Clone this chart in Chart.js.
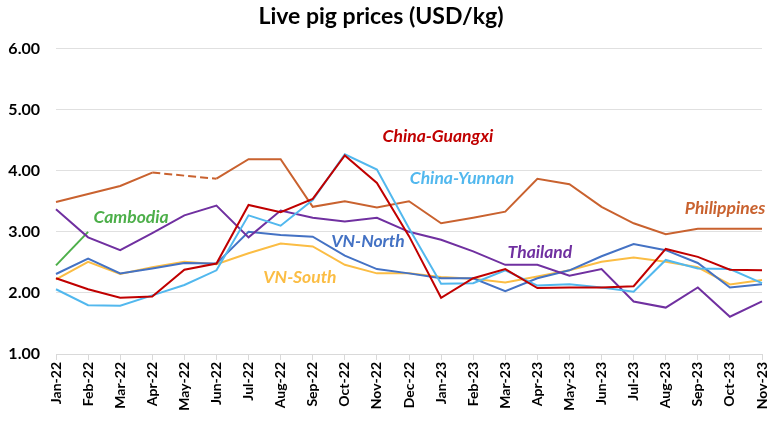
<!DOCTYPE html>
<html>
<head>
<meta charset="utf-8">
<script src="https://cdn.jsdelivr.net/npm/chart.js@4"></script>
<style>
  html, body { margin: 0; padding: 0; background: #fff; }
  #wrap { width: 783px; height: 423px; }
</style>
</head>
<body>
<div id="wrap"><canvas id="pigChart"></canvas></div>
<script>
"use strict";

// months on the x axis
const months = ["Jan-22", "Feb-22", "Mar-22", "Apr-22", "May-22", "Jun-22", "Jul-22", "Aug-22",
  "Sep-22", "Oct-22", "Nov-22", "Dec-22", "Jan-23", "Feb-23", "Mar-23", "Apr-23", "May-23",
  "Jun-23", "Jul-23", "Aug-23", "Sep-23", "Oct-23", "Nov-23"];

// prices, USD/kg
const guangxi = [2.24, 2.06, 1.92, 1.94, 2.38, 2.48, 3.44, 3.32, 3.54, 4.25, 3.80, 2.93,
  1.92, 2.24, 2.39, 2.08, 2.09, 2.09, 2.11, 2.72, 2.59, 2.38, 2.37];
const yunnan = [2.06, 1.80, 1.79, 1.96, 2.13, 2.37, 3.27, 3.10, 3.52, 4.27, 4.02, 3.06,
  2.15, 2.16, 2.37, 2.12, 2.14, 2.09, 2.02, 2.54, 2.40, 2.39, 2.16];
const thailand = [3.37, 2.91, 2.70, 2.98, 3.27, 3.43, 2.91, 3.35, 3.23, 3.17, 3.23, 3.00,
  2.87, 2.68, 2.46, 2.46, 2.28, 2.39, 1.86, 1.76, 2.09, 1.61, 1.86];
const vnNorth = [2.31, 2.56, 2.32, 2.40, 2.49, 2.48, 3.00, 2.95, 2.92, 2.61, 2.39, 2.32,
  2.24, 2.24, 2.03, 2.24, 2.37, 2.60, 2.80, 2.70, 2.49, 2.09, 2.14];
const vnSouth = [2.22, 2.51, 2.31, 2.42, 2.51, 2.47, 2.65, 2.81, 2.76, 2.46, 2.32, 2.32,
  2.26, 2.23, 2.17, 2.27, 2.37, 2.51, 2.58, 2.51, 2.42, 2.14, 2.21];
const philippines = [3.49, 3.62, 3.75, 3.97, null, 3.87, 4.19, 4.19, 3.41, 3.50, 3.40, 3.50,
  3.14, 3.23, 3.33, 3.87, 3.78, 3.41, 3.14, 2.96, 3.05, 3.05, 3.05];
const cambodia = [2.45, 3.00, null, null, null, null, null, null, null, null, null, null,
  null, null, null, null, null, null, null, null, null, null, null];

const seriesNames = ["China-Guangxi", "China-Yunnan", "Thailand", "VN-North", "VN-South", "Philippines", "Cambodia"];
const seriesColors = ["#C00000", "#52B8EE", "#7030A0", "#4472C4", "#FBBD44", "#C9622F", "#4DAF4A"];

// where the series names sit, in chart units (month index, price)
const nameX = [11.9, 12.65, 15.08, 9.72, 7.6, 20.85, 2.34];
const nameY = [4.56, 3.87, 2.66, 2.85, 2.26, 3.39, 3.23];

const gapDash = (ctx) => (ctx.p0.skip || ctx.p1.skip ? [8, 4] : undefined);

const seriesData = [guangxi, yunnan, thailand, vnNorth, vnSouth, philippines, cambodia];

const datasets = seriesNames.map((name, i) => ({
  label: name,
  data: seriesData[i],
  borderColor: seriesColors[i],
  backgroundColor: seriesColors[i],
  borderWidth: 2,
  pointRadius: 0,
  tension: 0,
  spanGaps: name === "Philippines",
  segment: name === "Philippines" ? { borderDash: gapDash } : undefined,
}));

// writes the series names straight onto the plot
const seriesNamesPlugin = {
  id: "seriesNames",
  afterDatasetsDraw(chart) {
    const { ctx, scales } = chart;
    ctx.save();
    ctx.font = "italic bold 17.5px Lato";
    ctx.textAlign = "center";
    ctx.textBaseline = "middle";
    seriesNames.forEach((name, i) => {
      ctx.fillStyle = seriesColors[i];
      ctx.fillText(name, scales.x.getPixelForValue(nameX[i]), scales.y.getPixelForValue(nameY[i]));
    });
    ctx.restore();
  },
};

const config = {
  type: "line",
  data: { labels: months, datasets: datasets },
  plugins: [seriesNamesPlugin],
  options: {
    responsive: true,
    maintainAspectRatio: false,
    animation: false,
    layout: { padding: { left: 0, right: 21, top: 0, bottom: 0 } },
    plugins: {
      legend: { display: false },
      tooltip: { enabled: false },
      title: {
        display: true,
        text: "Live pig prices (USD/kg)",
        color: "#000",
        font: { family: "Lato", size: 23, weight: "bold" },
        padding: { top: 3, bottom: 18 },
      },
    },
    scales: {
      x: {
        grid: { drawOnChartArea: false, drawTicks: true, tickLength: 6, color: "#d9d9d9" },
        border: { color: "#d9d9d9" },
        ticks: {
          color: "#000",
          font: { family: "Lato", size: 14, weight: "bold" },
          minRotation: 90,
          maxRotation: 90,
          autoSkip: false,
          padding: 2,
        },
        afterFit(scale) { scale.height = 69; },
      },
      y: {
        min: 1,
        max: 6,
        grid: { color: "#e0e0e0", drawTicks: false },
        border: { display: false },
        ticks: {
          stepSize: 1,
          color: "#000",
          padding: 16,
          font: { family: "Lato", size: 16, weight: "bold" },
          callback: (value) => value.toFixed(2),
        },
        afterFit(scale) { scale.width = 56; },
      },
    },
  },
};

const pigChart = new Chart(document.getElementById("pigChart"), config);
</script>
</body>
</html>
